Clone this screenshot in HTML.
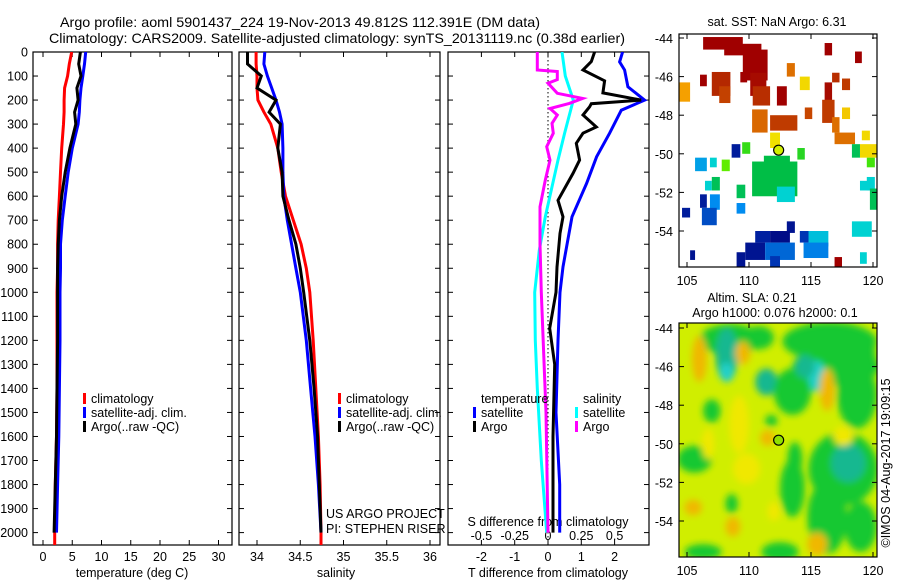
<!DOCTYPE html>
<html><head><meta charset="utf-8"><style>
html,body{margin:0;padding:0;background:#fff;}
svg{display:block;font-family:"Liberation Sans",sans-serif;}
text{fill:#000;}
</style></head><body>
<svg id="fig" width="900" height="580" viewBox="0 0 900 580" xmlns="http://www.w3.org/2000/svg">
<defs>
<clipPath id="clipT"><rect x="33" y="52" width="199" height="493"/></clipPath>
<clipPath id="clipS"><rect x="239" y="52" width="201" height="493"/></clipPath>
<clipPath id="clipD"><rect x="448" y="52" width="201" height="493"/></clipPath>
<clipPath id="clipM1"><rect x="679" y="34" width="198" height="233"/></clipPath>
<clipPath id="clipM2"><rect x="679" y="323" width="198" height="234"/></clipPath>
<filter id="blur" x="-50%" y="-50%" width="200%" height="200%"><feGaussianBlur stdDeviation="3.5"/></filter>
</defs>
<text x="60" y="27" font-size="14" textLength="480" lengthAdjust="spacingAndGlyphs">Argo profile: aoml 5901437_224 19-Nov-2013 49.812S 112.391E (DM data)</text>
<text x="49" y="43" font-size="14" textLength="576" lengthAdjust="spacingAndGlyphs">Climatology: CARS2009. Satellite-adjusted climatology: synTS_20131119.nc (0.38d earlier)</text>
<g id="g"></g>
</svg>
<script>
// ---------- Data ----------
const depthTicks = [0,100,200,300,400,500,600,700,800,900,1000,1100,1200,1300,1400,1500,1600,1700,1800,1900,2000];
const tempTicks = [0,5,10,15,20,25,30];
const salTicks = [34,34.5,35,35.5,36];
const salTickLabels = ["34","34.5","35","35.5","36"];
const tdiffTicks = [-2,-1,0,1,2];
const sdiffTicks = [-0.5,-0.25,0,0.25,0.5];
const sdiffTickLabels = ["-0.5","-0.25","0","0.25","0.5"];

const profDepths = [0,50,100,150,200,250,300,400,500,600,700,800,900,1000,1200,1400,1600,1800,2000];
const tempClim = [4.9,4.5,4.2,3.7,3.6,3.6,3.5,3.2,3.0,2.8,2.6,2.5,2.5,2.4,2.4,2.4,2.3,2.1,2.0];
const tempSat  = [7.3,7.1,6.8,6.5,6.3,6.2,6.0,5.0,4.3,3.8,3.3,3.0,3.0,2.9,2.9,2.8,2.7,2.5,2.3];
const tempArgo = [6.4,6.1,6.5,5.8,6.0,5.4,5.6,4.6,3.8,3.2,2.8,2.6,2.5,2.5,2.5,2.4,2.3,2.1,1.9];
const salClim = [33.99,33.99,34.0,34.0,34.01,34.08,34.16,34.24,34.28,34.33,34.42,34.51,34.57,34.61,34.65,34.68,34.71,34.73,34.74];
const salSat  = [34.09,34.08,34.12,34.17,34.22,34.26,34.29,34.30,34.30,34.31,34.35,34.40,34.45,34.50,34.57,34.62,34.67,34.71,34.74];
const salArgo = [33.89,33.89,34.05,34.0,34.22,34.14,34.27,34.24,34.29,34.30,34.37,34.45,34.50,34.54,34.61,34.66,34.70,34.72,34.74];

const tSatDepths = [0,41,75,145,200,242,338,436,547,686,894,1000,1200,1500,1800,2000];
const tSatDiff   = [2.24,2.15,2.3,2.4,2.9,2.2,1.85,1.46,1.16,0.72,0.45,0.36,0.3,0.24,0.35,0.35];
const tArgoDepths = [0,40,75,120,170,200,215,228,262,312,338,380,450,505,617,686,755,895,1000,1150,1300,1600,2000];
const tArgoDiff   = [1.4,1.3,1.05,1.7,1.65,2.8,1.3,1.25,1.05,1.45,1.05,0.85,0.95,0.75,0.3,0.45,0.36,0.27,0.24,0.05,0.2,0.15,0.15];
const sSatDepths = [0,100,200,338,450,561,686,825,1000,1200,1400,1700,2000];
const sSatDiff   = [0.105,0.13,0.19,0.125,0.075,0.03,-0.02,-0.065,-0.1,-0.095,-0.08,-0.05,-0.01];
const sArgoDepths = [0,75,81,115,130,172,193,214,235,262,297,338,394,450,533,644,800,1000,1500,2000];
const sArgoDiff   = [-0.08,-0.08,0.07,0.07,0,0.07,0.26,0.16,0.015,0.07,0.03,0.04,-0.01,0.015,-0.02,-0.06,-0.06,-0.05,-0.015,0];

const lonTicks = [105,110,115,120];
const latTicks = [-44,-46,-48,-50,-52,-54];
// SST cells: lon0, lat0, lon1, lat1, sst
const sstCells = [
[106.3,-43.95,109.5,-44.6,10],[108.0,-44.3,111.0,-44.9,10],[109.5,-44.6,111.5,-46.2,10],[110.1,-45.8,111.4,-47.0,9.8],
[107.0,-45.76,108.5,-47.0,9.3],[107.6,-46.5,108.5,-47.37,8.9],[106.05,-45.9,106.6,-46.5,10],[109.3,-45.76,109.85,-46.3,10],
[110.3,-46.5,111.7,-47.5,9.2],[112.25,-46.5,113.05,-47.5,10],[113.05,-45.3,113.7,-46.0,8.2],
[114.1,-46.0,114.9,-46.7,6.8],[116.1,-44.26,116.7,-44.9,10],[116.7,-45.8,117.3,-46.3,9.2],
[117.5,-46.1,118.15,-46.7,9.0],[118.55,-44.7,119.1,-45.3,10],[116.1,-46.3,116.7,-47.3,9.8],
[104.35,-46.3,105.25,-47.3,7.5],[110.25,-47.7,111.5,-48.9,8.3],[111.7,-48.0,113.9,-48.8,9.0],
[114.5,-47.6,115.1,-48.2,8.8],[115.9,-47.2,116.9,-48.4,9.0],[116.7,-48.1,117.3,-48.9,8.2],
[117.5,-47.6,118.15,-48.2,7.0],[116.9,-48.9,118.55,-49.5,8.2],[119.1,-48.8,119.75,-49.3,6.8],
[111.7,-48.9,112.5,-49.7,6.7],[108.6,-49.5,109.3,-50.2,2.2],[109.45,-49.4,110.1,-50.0,5.3],
[113.9,-49.7,114.5,-50.3,5.2],[118.3,-49.5,118.95,-50.2,4.8],[118.95,-49.5,120.3,-50.2,6.8],
[110.25,-50.4,113.9,-52.2,4.9],[111.2,-50.1,113.3,-50.6,4.9],[112.25,-51.7,113.7,-52.5,4.0],[105.65,-50.2,106.6,-50.9,3.5],
[106.85,-50.2,107.4,-50.7,4.0],[107.8,-50.3,108.45,-50.9,5.6],[106.45,-51.4,107.0,-51.9,4.0],
[107.0,-51.2,107.65,-51.9,4.8],[109.0,-51.6,109.7,-52.3,4.8],[106.05,-52.1,106.6,-52.8,2.2],
[106.85,-52.1,107.65,-52.9,3.3],[109.0,-52.55,109.7,-53.1,3.3],[104.6,-52.8,105.25,-53.3,2.2],
[106.2,-52.8,107.4,-53.7,2.8],[119.5,-51.2,120.15,-51.9,4.0],[118.95,-51.4,119.75,-51.9,4.0],
[119.75,-51.8,120.3,-52.9,4.8],[119.5,-50.2,120.15,-50.7,5.4],[118.3,-53.5,119.9,-54.3,4.0],
[113.05,-53.5,113.7,-54.1,2.0],[110.5,-54.0,111.7,-54.6,2.3],[111.7,-54.0,113.3,-54.6,1.8],[109.7,-54.6,111.3,-55.5,2.0],
[111.3,-54.6,113.7,-55.5,3.0],[114.1,-54.0,115.4,-54.6,2.6],[114.8,-54.0,116.4,-54.8,3.8],[114.4,-54.6,116.4,-55.4,3.2],
[105.25,-55.0,105.65,-55.5,2.0],[109.0,-55.1,109.7,-55.9,2.0],[118.95,-55.1,119.5,-55.7,4.0],
[116.9,-55.35,117.5,-55.9,10],[111.7,-55.3,112.5,-55.9,2.6]
];
// SLA blobs: lon, lat, rx(deg), ry(deg), sla
const slaBlobs = [
[108.5,-44.6,2.5,0.8,-0.15],[108.2,-45.4,0.9,1.4,-0.3],[108.2,-46.3,0.6,0.5,-0.5],[110.8,-44.5,1.2,0.6,-0.15],
[116.5,-44.7,3.8,1.0,-0.15],[117.0,-46.0,3.5,1.0,-0.15],[118.7,-47.5,1.6,1.7,-0.2],[111.4,-46.8,0.9,0.7,-0.35],
[115.4,-46.5,0.8,0.8,-0.45],[113.5,-47.3,1.5,1.2,-0.15],[119.3,-45.5,0.9,1.3,-0.2],[114.5,-46.0,0.8,0.6,-0.3],
[106.0,-45.6,0.6,1.2,0.25],[116.3,-47.2,0.6,1.1,0.25],[109.5,-45.3,0.6,0.6,0.2],
[117.6,-51.3,2.8,1.9,-0.2],[118.0,-51.0,1.4,1.0,-0.3],[116.3,-53.8,1.6,1.9,-0.2],[119.0,-54.3,1.3,1.3,-0.1],
[105.6,-50.8,1.4,0.7,-0.12],[107.0,-48.3,0.7,0.6,-0.1],[113.5,-52.3,1.0,1.5,-0.12],
[108.6,-53.1,0.5,0.5,-0.15],[111.8,-48.8,0.5,0.3,-0.12],[113.7,-50.8,0.6,0.9,-0.1],
[106.3,-55.6,1.5,0.4,-0.1],[112.5,-55.6,1.5,0.5,-0.1],
[115.5,-55.2,0.8,0.6,0.25],[105.5,-53.3,0.7,0.4,0.22],[108.7,-54.3,0.6,0.5,0.22],
[109.8,-51.3,1.1,0.8,0.15],[111.5,-49.7,0.6,0.4,0.2],[106.7,-50.0,0.5,0.8,0.1],
[117.6,-49.6,0.8,0.5,0.15],[112.0,-53.5,0.5,0.5,0.15],[109.2,-49.0,0.8,1.5,0.12]
];
const argoLon = 112.391, argoLat = -49.812;

// ---------- Helpers ----------
const NS = "http://www.w3.org/2000/svg";
const G = document.getElementById('g');
function mk(tag, attrs, parent, txt){
  const e = document.createElementNS(NS, tag);
  for (const k in attrs) e.setAttribute(k, attrs[k]);
  if (txt !== undefined) e.textContent = txt;
  (parent || G).appendChild(e);
  return e;
}
const yDepth = d => 52 + d * 0.2403;
const xTemp = t => 43 + t * 5.85;
const xSal = s => 257 + (s - 34) * 86.5;
const xTd = t => 548 + t * 33.3;
const xSd = s => 548 + s * 4 * 33.3;
const mLon = lon => 687 + (lon - 105) * 12.4;
const m1Lat = lat => 38 + (-44 - lat) * 19.3;
const m2Lat = lat => 328 + (-44 - lat) * 19.3;

function frame(x0, x1, name){
  const r = mk('rect', {x:x0, y:52, width:x1-x0, height:493, fill:'none', stroke:'#000', 'stroke-width':1.2});
  
  
  depthTicks.forEach(d => {
    const y = yDepth(d);
    mk('line', {x1:x0, y1:y, x2:x0+5, y2:y, stroke:'#000'});
    mk('line', {x1:x1, y1:y, x2:x1-5, y2:y, stroke:'#000'});
  });
}
function xticks(ticks, fx, labels, ty, name){
  ticks.forEach((v,i) => {
    const x = fx(v);
    mk('line', {x1:x, y1:545, x2:x, y2:540, stroke:'#000'});
    mk('line', {x1:x, y1:52, x2:x, y2:57, stroke:'#000'});
    const t = mk('text', {x:x, y:ty, 'font-size':12.5, 'text-anchor':'middle'}, G, labels ? labels[i] : String(v));
    
    
  });
}
function profile(depths, vals, fx, color, clip, name){
  let d = '';
  depths.forEach((dep,i) => {
    d += (i ? 'L' : 'M') + fx(vals[i]).toFixed(1) + ',' + yDepth(dep).toFixed(1);
  });
  const p = mk('path', {d:d, fill:'none', stroke:color, 'stroke-width':3, 'clip-path':'url(#'+clip+')', 'stroke-linejoin':'miter'});
  
  
}
function legend(x, y, color, label, name){
  const r = mk('rect', {x:x, y:y-10, width:3, height:11, fill:color});
  
  
  const t = mk('text', {x:x+8, y:y, 'font-size':12.5}, G, label);
  
  
}
function lbl(x, y, s, txt, name, anchor, extra){
  const a = {x:x, y:y, 'font-size':s};
  if (anchor) a['text-anchor'] = anchor;
  if (extra) for (const k in extra) a[k] = extra[k];
  const t = mk('text', a, G, txt);
  
  
  return t;
}

// ---------- Depth axis ----------
depthTicks.forEach(d => {
  const t = mk('text', {x:28, y:yDepth(d)+4.5, 'font-size':12.5, 'text-anchor':'end'}, G, String(d));
  
  
});

// ---------- Panel 1: temperature ----------
frame(33, 232, 'temperature-panel-frame');
xticks(tempTicks, xTemp, null, 561, 'temperature');
lbl(132, 577, 12.5, 'temperature (deg C)', 'temperature-axis-title', 'middle');
profile(profDepths.concat([2054]), tempClim.concat([2.0]), xTemp, '#f00', 'clipT', 'temperature-climatology-line');
profile(profDepths, tempSat, xTemp, '#00f', 'clipT', 'temperature-satellite-line');
profile(profDepths, tempArgo, xTemp, '#000', 'clipT', 'temperature-argo-line');
legend(83, 403, '#f00', 'climatology', 'legend-climatology');
legend(83, 417, '#00f', 'satellite-adj. clim.', 'legend-satellite-adj');
legend(83, 431, '#000', 'Argo(..raw -QC)', 'legend-argo');

// ---------- Panel 2: salinity ----------
frame(239, 440, 'salinity-panel-frame');
xticks(salTicks, xSal, salTickLabels, 561, 'salinity');
lbl(336, 577, 12.5, 'salinity', 'salinity-axis-title', 'middle');
profile(profDepths.concat([2054]), salClim.concat([34.74]), xSal, '#f00', 'clipS', 'salinity-climatology-line');
profile(profDepths, salSat, xSal, '#00f', 'clipS', 'salinity-satellite-line');
profile(profDepths, salArgo, xSal, '#000', 'clipS', 'salinity-argo-line');
legend(338, 403, '#f00', 'climatology', 'legend-climatology-2');
legend(338, 417, '#00f', 'satellite-adj. clim.', 'legend-satellite-adj-2');
legend(338, 431, '#000', 'Argo(..raw -QC)', 'legend-argo-2');
lbl(326, 518, 12.5, 'US ARGO PROJECT', 'project-label');
lbl(326, 533, 12.5, 'PI: STEPHEN RISER', 'pi-label');

// ---------- Panel 3: differences ----------
frame(448, 649, 'difference-panel-frame');
mk('line', {x1:548, y1:52, x2:548, y2:545, stroke:'#000', 'stroke-dasharray':'1.5,2.5', 'stroke-width':1});
xticks(tdiffTicks, xTd, null, 561, 't-difference');
sdiffTicks.forEach((v,i) => lbl(xSd(v), 540, 12.5, sdiffTickLabels[i], 's-difference-tick-label', 'middle'));
lbl(548, 526, 12.5, 'S difference from climatology', 's-difference-title', 'middle');
lbl(548, 577, 12.5, 'T difference from climatology', 't-difference-axis-title', 'middle');
profile(sSatDepths, sSatDiff, xSd, '#0ff', 'clipD', 's-satellite-diff-line');
profile(sArgoDepths, sArgoDiff, xSd, '#f0f', 'clipD', 's-argo-diff-line');
profile(tSatDepths, tSatDiff, xTd, '#00f', 'clipD', 't-satellite-diff-line');
profile(tArgoDepths, tArgoDiff, xTd, '#000', 'clipD', 't-argo-diff-line');
lbl(481, 403, 12.5, 'temperature', 'legend-temperature-header');
lbl(583, 403, 12.5, 'salinity', 'legend-salinity-header');
legend(473, 417, '#00f', 'satellite', 'legend-t-satellite');
legend(473, 431, '#000', 'Argo', 'legend-t-argo');
legend(575, 417, '#0ff', 'satellite', 'legend-s-satellite');
legend(575, 431, '#f0f', 'Argo', 'legend-s-argo');

// ---------- Map helpers ----------
function sstColor(v){
  const stops = [[1.5,[0,0,120]],[2.5,[0,40,170]],[3.3,[0,140,240]],[4.0,[0,210,210]],[4.9,[0,190,70]],[5.5,[80,235,0]],[6.5,[240,240,0]],[7.5,[245,160,0]],[8.5,[210,90,0]],[9.3,[180,40,0]],[10,[160,0,0]]];
  if (v <= stops[0][0]) return 'rgb('+stops[0][1]+')';
  for (let i=1;i<stops.length;i++){
    if (v <= stops[i][0]) {
      const a = stops[i-1], b = stops[i], f = (v-a[0])/(b[0]-a[0]);
      return 'rgb(' + a[1].map((c,k)=>Math.round(c+(b[1][k]-c)*f)).join(',') + ')';
    }
  }
  return 'rgb(160,0,0)';
}
function slaColor(v){
  if (v <= -0.4) return '#20d0c8';
  if (v <= -0.25) return '#18b890';
  if (v < 0) return '#18c830';
  if (v < 0.18) return '#f0e800';
  return '#f0b800';
}
function mapAxes(top, bottom, fy, name, lonLabelY){
  const r = mk('rect', {x:679, y:top, width:198, height:bottom-top, fill:'none', stroke:'#000', 'stroke-width':1.2});
  
  
  latTicks.forEach(l => {
    const y = fy(l);
    mk('line', {x1:679, y1:y, x2:684, y2:y, stroke:'#000'});
    mk('line', {x1:877, y1:y, x2:872, y2:y, stroke:'#000'});
    lbl(673, y+5, 12.5, String(l), name + '-lat-tick-label', 'end');
  });
  lonTicks.forEach(l => {
    const x = mLon(l);
    mk('line', {x1:x, y1:bottom, x2:x, y2:bottom-5, stroke:'#000'});
    mk('line', {x1:x, y1:top, x2:x, y2:top+5, stroke:'#000'});
    lbl(x, lonLabelY, 12.5, String(l), name + '-lon-tick-label', 'middle');
  });
}

// ---------- Map 1: SST ----------
lbl(777, 26, 12.5, 'sat. SST: NaN Argo: 6.31', 'sst-map-title', 'middle');
const m1 = mk('g', {'clip-path':'url(#clipM1)'});


sstCells.forEach(c => {
  const x0 = mLon(c[0]), x1 = mLon(c[2]), y0 = m1Lat(c[1]), y1 = m1Lat(c[3]);
  const r = mk('rect', {x:x0, y:y0, width:x1-x0, height:y1-y0, fill:sstColor(c[4])}, m1);
  
  
});
const c1 = mk('circle', {cx:mLon(argoLon), cy:m1Lat(argoLat), r:5, fill:sstColor(6.31), stroke:'#000', 'stroke-width':1.2});


mapAxes(34, 267, m1Lat, 'sst-map', 285);

// ---------- Map 2: SLA ----------
lbl(752, 302, 12.5, 'Altim. SLA: 0.21', 'sla-map-title', 'middle');
lbl(775, 317, 12.5, 'Argo h1000: 0.076 h2000: 0.1', 'argo-height-title', 'middle');
const m2 = mk('g', {'clip-path':'url(#clipM2)'});


mk('rect', {x:679, y:323, width:198, height:234, fill:'#d0ee00'}, m2);
const bl = mk('g', {filter:'url(#blur)'}, m2);
slaBlobs.forEach(b => {
  const e = mk('ellipse', {cx:mLon(b[0]), cy:m2Lat(b[1]), rx:b[2]*12.4, ry:b[3]*19.3, fill:slaColor(b[4])}, bl);
  
  
});
const c2 = mk('circle', {cx:mLon(argoLon), cy:m2Lat(argoLat), r:5, fill:'#90e000', stroke:'#000', 'stroke-width':1.2});


mapAxes(323, 557, m2Lat, 'sla-map', 575);
lbl(0, 0, 12.5, '©IMOS 04-Aug-2017 19:09:15', 'imos-timestamp', 'middle', {transform:'translate(890,463) rotate(-90)'});
</script>
</body></html>
